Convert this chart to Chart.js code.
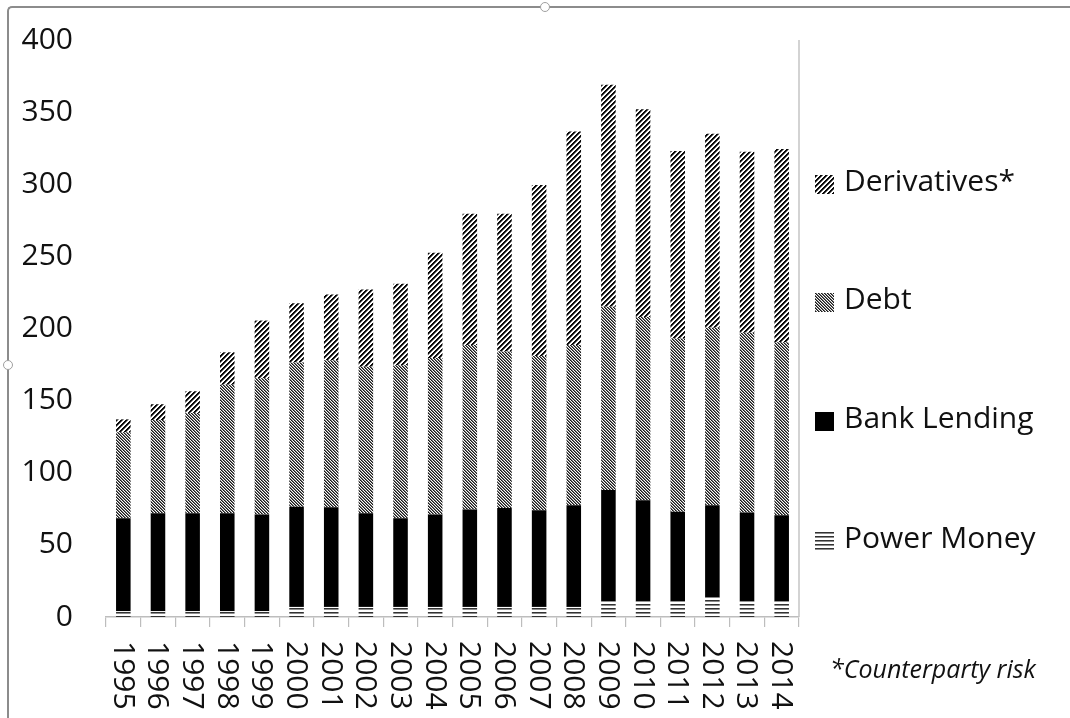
<!DOCTYPE html>
<html>
<head>
<meta charset="utf-8">
<script src="https://cdn.jsdelivr.net/npm/chart.js@4.4.1/dist/chart.umd.min.js"></script>
<style>
  html, body { margin: 0; padding: 0; background: #fff; }
  #wrap { position: relative; width: 1070px; height: 718px; overflow: hidden; }
  #frame { position: absolute; left: 7px; top: 6px; right: -10px; bottom: -10px;
           border-top: 2px solid #8c8c8c; border-left: 2px solid #8c8c8c;
           border-top-left-radius: 5px; }
  .handle { position: absolute; width: 8px; height: 8px; border-radius: 50%;
            background: #fff; border: 1px solid #a0a0a0; }
  canvas { position: absolute; left: 0; top: 0; }
</style>
</head>
<body>
<div id="wrap">
  <div id="frame"></div>
  <div class="handle" style="left:540px; top:2px;"></div>
  <div class="handle" style="left:3px; top:360px;"></div>
  <canvas id="chart" width="1070" height="718"></canvas>
</div>
<script>
// Years on the category axis
const years = ['1995','1996','1997','1998','1999','2000','2001','2002','2003','2004',
               '2005','2006','2007','2008','2009','2010','2011','2012','2013','2014'];

// Stacked components, bottom to top
const powerMoney  = [4, 4, 4, 4, 4, 7, 7, 7, 7, 7, 7, 7, 7, 7, 11, 11, 11, 13.5, 11, 11];
const bankLending = [64.5, 68, 68, 68, 67, 69.5, 69, 65, 61.5, 64, 67.5, 68.5, 67, 70.5, 77, 70, 62, 64, 61.5, 59.5];
const debt        = [59.5, 64.5, 69.5, 89, 94.5, 100, 102, 101.5, 106, 108.5, 114, 108.5, 107, 111, 127, 127, 120, 123, 124.5, 120];
const derivatives = [9, 11, 15, 22.5, 40, 41, 45.5, 53.5, 56.5, 73, 91, 95.5, 118.5, 148, 154, 144, 130, 134.5, 125.5, 134];

const seriesNames = ['Power Money', 'Bank Lending', 'Debt', 'Derivatives*'];
const yTicks = { min: 0, max: 400, step: 50 };
const footnote = '*Counterparty risk';

const FONT = '"Open Sans", "Noto Sans", sans-serif';

// Build a repeating pixel tile; shade(x, y) returns a grey level 0..255
function makePattern(size, shade) {
  const c = document.createElement('canvas');
  c.width = size; c.height = size;
  const g = c.getContext('2d');
  const img = g.createImageData(size, size);
  for (let y = 0; y < size; y++) {
    for (let x = 0; x < size; x++) {
      const v = shade(x, y);
      const i = (y * size + x) * 4;
      img.data[i] = img.data[i + 1] = img.data[i + 2] = v;
      img.data[i + 3] = 255;
    }
  }
  g.putImageData(img, 0, 0);
  return g.createPattern(c, 'repeat');
}

const ctx = document.getElementById('chart').getContext('2d');

// Wide "/" hatching
const hatchWide = makePattern(5, (x, y) => {
  const k = ((x + y) % 5 + 5) % 5;
  return [10, 10, 110, 255, 255][k];
});
// Fine "\" hatching
const hatchFine = makePattern(3, (x, y) => {
  const k = ((x - y) % 3 + 3) % 3;
  return [25, 115, 250][k];
});
// Horizontal rules
const hRules = makePattern(4, (x, y) => [50, 140, 255, 255][y % 4]);

const fills = [hRules, '#000000', hatchFine, hatchWide];
const values = [powerMoney, bankLending, debt, derivatives];

// Right-hand frame line of the plot area
const plotEdge = {
  id: 'plotEdge',
  afterDatasetsDraw(chart) {
    const { ctx, chartArea } = chart;
    ctx.save();
    ctx.strokeStyle = '#c4c4c4';
    ctx.lineWidth = 1.5;
    ctx.beginPath();
    ctx.moveTo(chartArea.right, chartArea.top);
    ctx.lineTo(chartArea.right, chartArea.bottom);
    ctx.stroke();
    ctx.restore();
  }
};

// Year labels, turned clockwise under each bar
const yearLabels = {
  id: 'yearLabels',
  afterDraw(chart) {
    const { ctx } = chart;
    const xs = chart.scales.x;
    ctx.save();
    ctx.fillStyle = '#111';
    ctx.font = '30px ' + FONT;
    ctx.textAlign = 'left';
    ctx.textBaseline = 'middle';
    years.forEach((lab, i) => {
      const x = xs.getPixelForTick(i);
      ctx.save();
      ctx.translate(x - 1, chart.chartArea.bottom + 24);
      ctx.rotate(Math.PI / 2);
      ctx.fillText(lab, 0, 0);
      ctx.restore();
    });
    ctx.restore();
  }
};

// Legend column on the right, top series first
const sideLegend = {
  id: 'sideLegend',
  afterDraw(chart) {
    const { ctx } = chart;
    const ds = chart.data.datasets;
    const rows = [184, 302, 421, 541];
    ctx.save();
    ctx.font = '30px ' + FONT;
    ctx.fillStyle = '#111';
    ctx.textAlign = 'left';
    ctx.textBaseline = 'middle';
    for (let r = 0; r < ds.length; r++) {
      const d = ds[ds.length - 1 - r];
      const cy = rows[r];
      ctx.fillStyle = d.backgroundColor;
      ctx.fillRect(815, cy - 9, 19, 19);
      ctx.fillStyle = '#111';
      ctx.fillText(d.label, 844, cy - 2);
    }
    ctx.font = 'italic 25px ' + FONT;
    ctx.fillText(footnote, 830, 671);
    ctx.restore();
  }
};

new Chart(ctx, {
  type: 'bar',
  data: {
    labels: years,
    datasets: seriesNames.map((name, i) => ({
      label: name,
      data: values[i],
      backgroundColor: fills[i],
      borderWidth: 0,
      barPercentage: 0.42,
      categoryPercentage: 1.0
    }))
  },
  options: {
    responsive: false,
    animation: false,
    devicePixelRatio: 1,
    layout: { padding: { top: 40, right: 271, bottom: 0, left: 0 } },
    plugins: {
      legend: { display: false },
      tooltip: { enabled: false }
    },
    scales: {
      x: {
        stacked: true,
        offset: true,
        grid: {
          display: true,
          offset: true,
          drawOnChartArea: false,
          drawTicks: true,
          tickLength: 10,
          color: '#bdbdbd',
          lineWidth: 1.2
        },
        border: { display: true, color: '#bdbdbd', width: 1.5 },
        ticks: { display: false },
        afterFit(s) { s.height = 101; }
      },
      y: {
        stacked: true,
        min: yTicks.min,
        max: yTicks.max,
        grid: { display: false, drawTicks: false },
        border: { display: false },
        ticks: {
          stepSize: yTicks.step,
          padding: 33,
          color: '#111',
          font: { family: FONT, size: 30 }
        },
        afterFit(s) {
          s.width = 106;
          s.paddingTop = 0;
          s.paddingBottom = 0;
        }
      }
    }
  },
  plugins: [plotEdge, yearLabels, sideLegend]
});
</script>
</body>
</html>
